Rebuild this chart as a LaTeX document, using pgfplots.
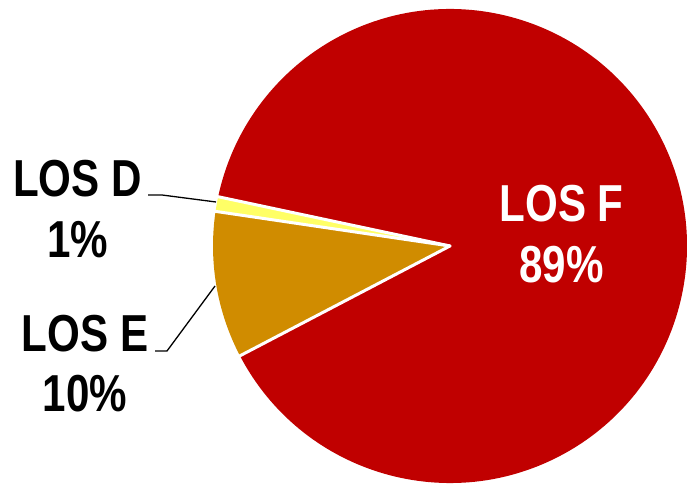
\documentclass[border=0pt]{standalone}
\usepackage{pgfplots}
\usepackage{pgfplotstable}
\pgfplotsset{compat=1.18}
\usepackage{fontspec}
\setmainfont{Liberation Sans}[FakeStretch=0.81]
\definecolor{losD}{HTML}{FFFF66}
\definecolor{losE}{HTML}{D08C00}
\definecolor{losF}{HTML}{C00000}

\pgfplotstableread{
label value color
D 1 losD
E 10 losE
F 89 losF
}\piedata

\begin{document}
\begin{tikzpicture}
\begin{axis}[
  scale only axis, width=687bp, height=484bp,
  xmin=0, xmax=687, ymin=0, ymax=484,
  hide axis, clip=false,
]
\pgfplotsextra{%
  \pgfmathsetmacro\acur{168}%
  \pgfplotsforeachungrouped \i in {0,1,2}{%
    \pgfplotstablegetelem{\i}{value}\of\piedata \let\v=\pgfplotsretval
    \pgfplotstablegetelem{\i}{color}\of\piedata \let\col=\pgfplotsretval
    \pgfmathsetmacro\anext{\acur+3.6*\v}%
    \fill[fill=\col] (axis cs:450,238) -- ++(\acur:237bp) arc[start angle=\acur, end angle=\anext, radius=237bp] -- cycle;
    \let\acur=\anext
  }%
  \pgfmathsetmacro\acur{168}%
  \pgfplotsforeachungrouped \i in {0,1,2}{%
    \pgfplotstablegetelem{\i}{value}\of\piedata \let\v=\pgfplotsretval
    \draw[white, line width=3bp, line cap=round] (axis cs:450,238) -- ++(\acur:238bp);
    \pgfmathsetmacro\anext{\acur+3.6*\v}%
    \let\acur=\anext
  }%
  \draw[black, line width=1.3bp] (axis cs:148,289) -- (axis cs:162,289) -- (axis cs:216,282);
  \draw[black, line width=1.3bp] (axis cs:155,133) -- (axis cs:167,133) -- (axis cs:215,198);
  \begingroup
  \fontsize{52bp}{60bp}\selectfont\bfseries
  \node[anchor=base, inner sep=0pt, text=white] at (axis cs:561.5,262) {LOS F};
  \node[anchor=base, inner sep=0pt, text=white] at (axis cs:561.5,201) {89\%};
  \node[anchor=base, inner sep=0pt, text=black] at (axis cs:77.5,287) {LOS D};
  \node[anchor=base, inner sep=0pt, text=black] at (axis cs:77.5,226) {1\%};
  \node[anchor=base, inner sep=0pt, text=black] at (axis cs:85,132) {LOS E};
  \node[anchor=base, inner sep=0pt, text=black] at (axis cs:85,72) {10\%};
  \endgroup
}
\end{axis}
\pgfresetboundingbox
\path (0,0) rectangle (687bp,484bp);
\end{tikzpicture}
\end{document}
